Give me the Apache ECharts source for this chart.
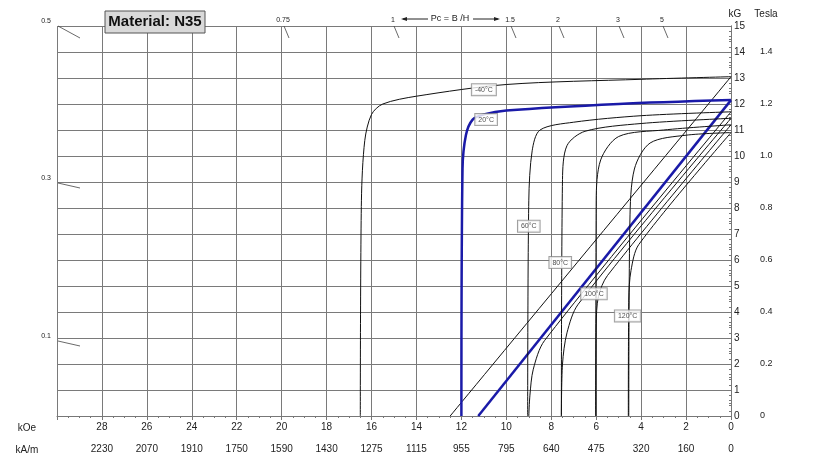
<!DOCTYPE html>
<html>
<head>
<meta charset="utf-8">
<script src="https://cdn.jsdelivr.net/npm/echarts@6/dist/echarts.min.js"></script>
<style>html,body{margin:0;padding:0;background:#fff}#main{width:820px;height:460px}</style>
</head>
<body>
<div id="main"></div>
<script>
// H in kOe, B in kG
var temps = ['-40°C', '20°C', '60°C', '80°C', '100°C', '120°C'];
var jCurves = [
  [[0,13.05],[4,12.95],[10,12.75],[14,12.3],[15.5,12.0],[16,11.6],[16.3,10.6],[16.45,8.3],[16.5,0]],
  [[0,12.15],[5,12.0],[10,11.75],[11,11.6],[11.5,11.4],[11.8,10.8],[11.95,9.5],[12.0,0]],
  [[0,11.7],[4,11.55],[7,11.3],[8.5,11.0],[8.85,10.2],[9.0,8.3],[9.05,0]],
  [[0,11.45],[4,11.25],[6.5,10.95],[7.3,10.4],[7.5,9.1],[7.55,0]],
  [[0,11.2],[3,11.0],[5,10.75],[5.8,9.85],[6.0,8.3],[6.02,0]],
  [[0,10.9],[2,10.8],[3.6,10.5],[4.3,9.5],[4.5,7.5],[4.55,0]]
];
var bCurves = [
  [[0,13.05],[12.5,0]],
  [[0,12.15],[11.25,0]],
  [[0,11.7],[8.3,2.9],[8.8,1.8],[8.95,0.8],[9.0,0]],
  [[0,11.45],[6.8,4.3],[7.3,3.2],[7.5,2.0],[7.55,0]],
  [[0,11.2],[5.5,5.4],[5.9,4.6],[6.0,3.5],[6.02,0]],
  [[0,10.9],[4.1,6.6],[4.45,5.6],[4.55,4.5],[4.57,0]]
];
var labelPos = [[11,12.55],[10.9,11.4],[9,7.3],[7.6,5.9],[6.1,4.7],[4.6,3.85]];
var kAmLabels = {28:'2230',26:'2070',24:'1910',22:'1750',20:'1590',18:'1430',16:'1275',14:'1115',12:'955',10:'795',8:'640',6:'475',4:'320',2:'160',0:'0'};
var pcLabels = ['0.75','1','1.5','2','3','5'];
var pcX = [283,393,510,558,618,662];
var leftLabels = ['0.5','0.3','0.1'];
var leftY = [26,183,341];

var chart = echarts.init(document.getElementById('main'));
var series = [];
for (var i = 0; i < temps.length; i++) {
  var blue = temps[i] === '20°C';
  var st = {color: blue ? '#1a1aa8' : '#111', width: blue ? 2.5 : 1};
  series.push({type:'line', data:jCurves[i], smooth:0.3, showSymbol:false, lineStyle:st, silent:true});
  series.push({type:'line', data:bCurves[i], smooth:0.3, showSymbol:false, lineStyle:st, silent:true});
}
series.push({
  type:'scatter', symbolSize:0, silent:true, z:10,
  data: labelPos.map(function(p, i){ return {value:p, name:temps[i]}; }),
  label:{show:true, position:'inside', formatter:'{b}', fontSize:7, color:'#222', fontFamily:'Arial',
    backgroundColor:'#fff', borderColor:'#888', borderWidth:1, padding:[2,3]}
});

var gridLine = {show:true, lineStyle:{color:'#7a7a7a', width:1}};
chart.setOption({
  animation:false,
  grid:{left:57, right:89, top:26, bottom:44},
  xAxis:[
    {type:'value', inverse:true, min:0, max:30, interval:2,
      splitLine:gridLine, axisLine:{lineStyle:{color:'#777'}}, axisTick:{show:true, inside:false, length:4, lineStyle:{color:'#777'}},
      minorTick:{show:true, splitNumber:4, length:2},
      axisLabel:{color:'#222', fontSize:10, fontFamily:'Arial', margin:6, formatter:function(v){return v===30?'':v;}}},
    {type:'value', inverse:true, min:0, max:30, interval:2, position:'bottom', offset:22,
      axisLine:{show:false}, axisTick:{show:false}, splitLine:{show:false},
      axisLabel:{color:'#222', fontSize:10, fontFamily:'Arial', margin:6, formatter:function(v){return kAmLabels[v]||'';}}}
  ],
  yAxis:[
    {type:'value', min:0, max:15, interval:1, position:'right',
      splitLine:gridLine, axisLine:{show:true, lineStyle:{color:'#777'}},
      axisTick:{show:true, inside:true, length:4}, minorTick:{show:true, splitNumber:5, length:2},
      axisLabel:{color:'#222', fontSize:10, fontFamily:'Arial', margin:3}},
    {type:'value', min:0, max:1.5, interval:0.2, position:'right', offset:26,
      splitLine:{show:false}, axisLine:{show:true, lineStyle:{color:'#777'}},
      axisTick:{show:true, inside:true, length:4}, minorTick:{show:true, splitNumber:4, length:2},
      axisLabel:{color:'#222', fontSize:9, fontFamily:'Arial', margin:3, showMaxLabel:false,
        formatter:function(v){return v===0?'0':(v>1.45?'':v.toFixed(1));}}}
  ],
  series:series
});

var g = [
  {type:'rect', shape:{x:105, y:11, width:100, height:22}, style:{fill:'#d9d9d9', stroke:'#555', lineWidth:1}, z:20},
  {type:'text', x:155, y:22, style:{text:'Material: N35', font:'bold 15px Arial', fill:'#111', align:'center', verticalAlign:'middle'}, z:21},
  {type:'text', x:735, y:14, style:{text:'kG', font:'10px Arial', fill:'#222', align:'center', verticalAlign:'middle'}},
  {type:'text', x:766, y:14, style:{text:'Tesla', font:'10px Arial', fill:'#222', align:'center', verticalAlign:'middle'}},
  {type:'text', x:27, y:428, style:{text:'kOe', font:'10px Arial', fill:'#222', align:'center', verticalAlign:'middle'}},
  {type:'text', x:27, y:450, style:{text:'kA/m', font:'10px Arial', fill:'#222', align:'center', verticalAlign:'middle'}},
  {type:'text', x:450, y:19, style:{text:'Pc = B /H', font:'9px Arial', fill:'#222', align:'center', verticalAlign:'middle'}},
  {type:'line', shape:{x1:403, y1:19, x2:428, y2:19}, style:{stroke:'#222'}},
  {type:'polygon', shape:{points:[[401,19],[407,17],[407,21]]}, style:{fill:'#222'}},
  {type:'line', shape:{x1:473, y1:19, x2:498, y2:19}, style:{stroke:'#222'}},
  {type:'polygon', shape:{points:[[500,19],[494,17],[494,21]]}, style:{fill:'#222'}}
];
pcLabels.forEach(function(t, i){
  g.push({type:'text', x:pcX[i], y:20, style:{text:t, font:'7px Arial', fill:'#222', align:'center', verticalAlign:'middle'}});
  g.push({type:'line', shape:{x1:pcX[i]+1, y1:26, x2:pcX[i]+6, y2:38}, style:{stroke:'#444', lineWidth:0.8}});
});
leftLabels.forEach(function(t, i){
  g.push({type:'text', x:46, y:leftY[i]-5, style:{text:t, font:'7px Arial', fill:'#222', align:'center', verticalAlign:'middle'}});
  g.push({type:'line', shape:{x1:58, y1:leftY[i], x2:80, y2:leftY[i]+(i===0?12:5)}, style:{stroke:'#444', lineWidth:0.8}});
});
chart.setOption({graphic:g});
</script>
</body>
</html>
